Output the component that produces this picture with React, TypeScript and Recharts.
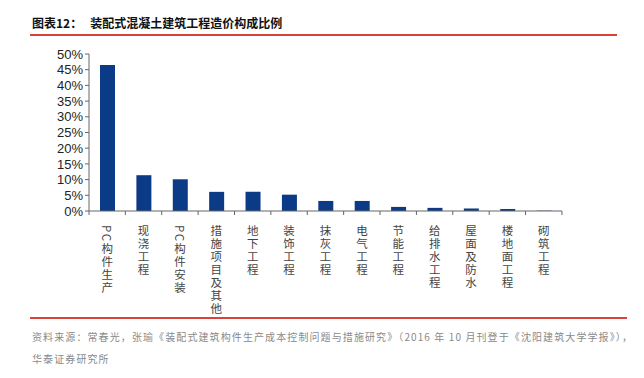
import { BarChart, Bar, XAxis, YAxis } from "recharts";

const categories = [
  "PC构件生产",
  "现浇工程",
  "PC构件安装",
  "措施项目及其他",
  "地下工程",
  "装饰工程",
  "抹灰工程",
  "电气工程",
  "节能工程",
  "给排水工程",
  "屋面及防水",
  "楼地面工程",
  "砌筑工程",
];
const shares = [46.5, 11.4, 10.1, 6.1, 6.1, 5.2, 3.2, 3.2, 1.3, 1.0, 0.8, 0.6, 0.1];
const yTicks = [0, 5, 10, 15, 20, 25, 30, 35, 40, 45, 50];

const data = categories.map((name, i) => ({ name, value: shares[i] }));

const CJK = '"Noto Sans CJK SC", sans-serif';
const STEP = 472 / categories.length;

// vertical category label, one text per category; ticks sit between categories
function VerticalTick(props: any) {
  const { x, y, payload, index } = props;
  return (
    <g>
      <line x1={x + STEP / 2} x2={x + STEP / 2} y1={y - 8} y2={y - 4} stroke="#666" />
      {index === 0 && (
        <line x1={x - STEP / 2} x2={x - STEP / 2} y1={y - 8} y2={y - 4} stroke="#666" />
      )}
      <text
        x={x}
        y={y + 6}
        fontSize={11.5}
        fontFamily={CJK}
        fill="#444"
        style={{ writingMode: "vertical-rl", letterSpacing: 1.5 } as any}
      >
        {payload.value}
      </text>
    </g>
  );
}

export default function App() {
  return (
    <div style={{ position: "relative", width: 644, height: 378, background: "#fff", fontFamily: CJK }}>
      <style>{`body{margin:0}`}</style>
      <div
        style={{
          position: "absolute",
          left: 32,
          top: 14,
          fontSize: 12,
          fontWeight: 700,
          color: "#111",
          whiteSpace: "pre",
        }}
      >
        图表12：   装配式混凝土建筑工程造价构成比例
      </div>
      <div style={{ position: "absolute", left: 30, top: 34, width: 587, height: 2, background: "#d9413a" }} />

      <div style={{ position: "absolute", left: 0, top: 0 }}>
        <BarChart
          width={644}
          height={378}
          data={data}
          margin={{ top: 54, right: 82, bottom: 0, left: 0 }}
        >
          <YAxis
            type="number"
            domain={[0, 50]}
            ticks={yTicks}
            tickFormatter={(v: number) => `${v}%`}
            width={89}
            axisLine={{ stroke: "#666" }}
            tickLine={{ stroke: "#666" }}
            tickSize={4}
            tickMargin={2}
            tick={{ fontSize: 13, fill: "#222", fontFamily: '"Liberation Sans", Arial, sans-serif' }}
            interval={0}
          />
          <XAxis
            dataKey="name"
            interval={0}
            height={167}
            axisLine={{ stroke: "#666" }}
            tickLine={false}
            tick={<VerticalTick />}
          />
          <Bar dataKey="value" fill="#0b3a86" barSize={15} isAnimationActive={false} />
        </BarChart>
      </div>

      <div style={{ position: "absolute", left: 30, top: 317, width: 597, height: 2, background: "#d9413a" }} />
      <div
        style={{
          position: "absolute",
          left: 32,
          top: 326,
          fontSize: 10,
          letterSpacing: 1.1,
          color: "#8a8a8a",
          whiteSpace: "nowrap",
          lineHeight: "22px",
        }}
      >
        资料来源：常春光，张瑜《装配式建筑构件生产成本控制问题与措施研究》（2016 年 10 月刊登于《沈阳建筑大学学报》），
        <br />
        华泰证券研究所
      </div>
    </div>
  );
}
